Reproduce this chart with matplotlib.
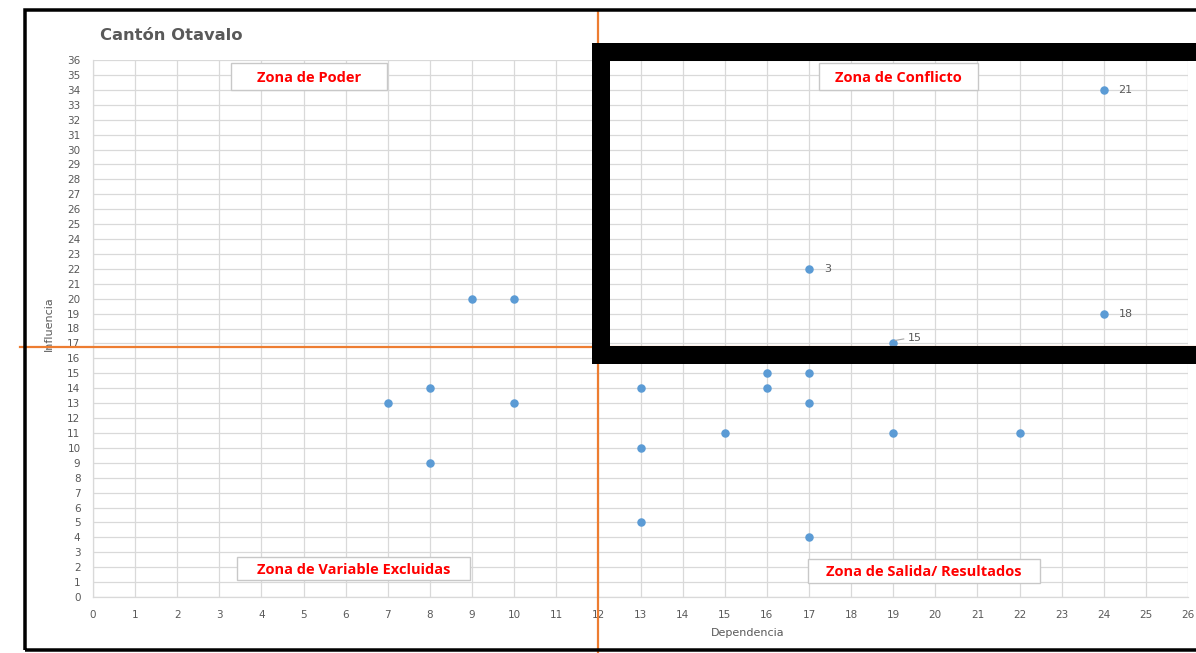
import matplotlib
matplotlib.use("Agg")
import matplotlib.pyplot as plt
from matplotlib.patches import Rectangle
from matplotlib.transforms import blended_transform_factory

# ---- data ----
dependencia = [9, 10, 24, 17, 24, 19, 7, 8, 10, 8, 13, 16, 17, 16, 17, 15, 19, 22, 13, 13, 17]
influencia = [20, 20, 34, 22, 19, 17, 13, 14, 13, 9, 14, 15, 15, 14, 13, 11, 11, 11, 10, 5, 4]
etiquetas = ["", "", "21", "3", "18", "15", "", "", "", "", "", "", "", "", "", "", "", "", "", "", ""]
x_ticks = list(range(0, 27))
y_ticks = list(range(0, 37))
titulo = "Cantón Otavalo"
x_label = "Dependencia"
y_label = "Influencia"
zonas = ["Zona de Poder", "Zona de Conflicto", "Zona de Variable Excluidas", "Zona de Salida/ Resultados"]
corte_x = 12
corte_y = 16.75

W, H = 1196, 653
fig = plt.figure(figsize=(W / 100, H / 100), dpi=100)
fig.patch.set_facecolor("white")

def fx(px):
    return px / W

def fy(py):
    return 1 - py / H

def fig_box(x0, y0, x1, y1, **kw):
    """Rectangle given in pixel coordinates (top-left origin)."""
    r = Rectangle((fx(x0), fy(y1)), fx(x1) - fx(x0), fy(y0) - fy(y1),
                  transform=fig.transFigure, **kw)
    fig.patches.append(r)
    return r

ax = fig.add_axes([fx(93), fy(597), fx(1188) - fx(93), fy(60) - fy(597)])
ax.set_xlim(0, 26)
ax.set_ylim(0, 36)
ax.set_xticks(x_ticks)
ax.set_yticks(y_ticks)
grey = "#595959"
ax.tick_params(axis="both", length=0, labelsize=7.5, labelcolor=grey)
ax.tick_params(axis="x", pad=9)
ax.tick_params(axis="y", pad=9)
ax.grid(True, color="#D9D9D9", linewidth=0.9)
ax.set_axisbelow(True)
for s in ["top", "right"]:
    ax.spines[s].set_visible(False)
for s in ["left", "bottom"]:
    ax.spines[s].set_color("#D9D9D9")
    ax.spines[s].set_linewidth(0.9)

ax.scatter(dependencia, influencia, s=26, color="#5B9BD5", zorder=3, clip_on=False)

for xv, yv, lab in zip(dependencia, influencia, etiquetas):
    if not lab:
        continue
    if lab == "15":
        ax.plot([xv + 0.05, xv + 0.25], [yv + 0.2, yv + 0.3], color="#A6A6A6", lw=0.8, zorder=3)
        ax.text(xv + 0.35, yv + 0.35, lab, fontsize=8, color=grey, va="center", ha="left", zorder=4)
    else:
        ax.text(xv + 0.35, yv, lab, fontsize=8, color=grey, va="center", ha="left", zorder=4)

ax.set_xlabel(x_label, fontsize=8, color=grey)
ax.xaxis.set_label_coords((748 - 93) / (1188 - 93), -(628 - 597) / (597 - 60))
ax.set_ylabel(y_label, fontsize=8, color=grey)
ax.yaxis.set_label_coords(-(93 - 54) / (1188 - 93), (597 - 324) / (597 - 60))

fig.text(fx(100), fy(35), titulo, fontsize=11.8, fontweight="bold", color=grey, ha="left", va="center")

# zone label boxes (pixel boxes)
boxes = [(231, 63, 387, 90), (819, 63, 978, 90), (237, 557, 470, 580), (808, 559, 1040, 583)]
for (x0, y0, x1, y1), txt in zip(boxes, zonas):
    fig_box(x0, y0, x1, y1, facecolor="white", edgecolor="#C8C8C8", lw=1.0, zorder=5)
    fig.text((fx(x0) + fx(x1)) / 2, (fy(y0) + fy(y1)) / 2 - 0.002, txt, fontsize=10.5,
             fontweight="bold", color="#FF0000", ha="center", va="center", zorder=6,
             family=["Open Sans", "DejaVu Sans"])

# quadrant lines
orange = "#ED7D31"
tv = blended_transform_factory(ax.transData, fig.transFigure)
ax.plot([corte_x, corte_x], [fy(12), 0], transform=tv, color=orange, lw=1.6, clip_on=False, zorder=7)
th = blended_transform_factory(fig.transFigure, ax.transData)
ax.plot([fx(20), 1], [corte_y, corte_y], transform=th, color=orange, lw=1.6, clip_on=False, zorder=7)

# black highlight frame around conflict zone (four solid bars)
fig_box(592, 43, 1200, 61, facecolor="black", edgecolor="none", zorder=10)
fig_box(592, 346, 1200, 364, facecolor="black", edgecolor="none", zorder=10)
fig_box(592, 43, 610, 364, facecolor="black", edgecolor="none", zorder=10)

# outer border
fig_box(24.5, 10, 1210, 650, fill=False, edgecolor="black", lw=3.5 * 0.72, zorder=10)

fig.savefig("out.png", dpi=100, facecolor="white")
